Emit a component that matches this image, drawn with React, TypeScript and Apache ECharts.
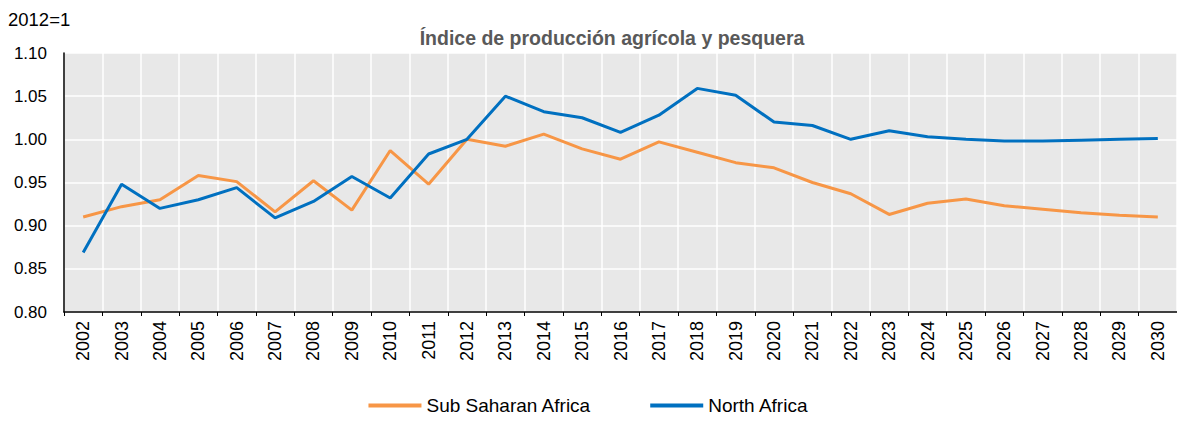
import React, { useEffect, useRef } from "react";
import * as echarts from "echarts";

const years: string[] = [
  "2002","2003","2004","2005","2006","2007","2008","2009","2010","2011",
  "2012","2013","2014","2015","2016","2017","2018","2019","2020","2021",
  "2022","2023","2024","2025","2026","2027","2028","2029","2030",
];

const subSaharanAfrica: number[] = [
  0.910, 0.922, 0.930, 0.958, 0.951, 0.916, 0.952, 0.918, 0.987, 0.948,
  1.000, 0.992, 1.006, 0.989, 0.977, 0.997, 0.985, 0.973, 0.967, 0.950,
  0.937, 0.913, 0.926, 0.931, 0.923, 0.919, 0.915, 0.912, 0.910,
];

const northAfrica: number[] = [
  0.869, 0.948, 0.920, 0.930, 0.944, 0.909, 0.928, 0.957, 0.932, 0.983,
  1.000, 1.050, 1.032, 1.025, 1.008, 1.028, 1.059, 1.051, 1.020, 1.016,
  1.000, 1.010, 1.003, 1.000, 0.998, 0.998, 0.999, 1.000, 1.001,
];

const yTicks = { min: 0.8, max: 1.1, interval: 0.05 };

const FONT = '"Liberation Sans Narrow", "Arial Narrow", "Liberation Sans", Arial, sans-serif';

export default function App() {
  const ref = useRef<HTMLDivElement>(null);

  useEffect(() => {
    if (!ref.current) return;
    const chart = echarts.init(ref.current, undefined, { renderer: "svg" });
    chart.setOption({
      animation: false,
      backgroundColor: "#ffffff",
      textStyle: { fontFamily: FONT },
      title: {
        text: "Índice de producción agrícola y pesquera",
        left: 607,
        textAlign: "center",
        top: 23,
        textStyle: { fontFamily: FONT, fontSize: 19.5, fontWeight: "bold", color: "#595959" },
      },
      graphic: [
        {
          type: "text",
          left: 8,
          top: 10,
          style: { text: "2012=1", fontFamily: FONT, fontSize: 18.5, fill: "#000000" },
        },
      ],
      legend: {
        top: 396,
        left: "center",
        padding: 0,
        itemWidth: 53,
        itemHeight: 4,
        itemGap: 59,
        icon: "rect",
        textStyle: { fontFamily: FONT, fontSize: 19, color: "#000000" },
        data: ["Sub Saharan Africa", "North Africa"],
      },
      grid: { left: 64, right: 0, top: 53, bottom: 109, containLabel: false, show: true, backgroundColor: "#e8e8e8", borderWidth: 0 },
      xAxis: {
        type: "category",
        data: years,
        boundaryGap: true,
        axisLine: { show: true, lineStyle: { color: "#000000", width: 1.5 } },
        axisTick: { show: true, length: 4, lineStyle: { color: "#000000" } },
        axisLabel: { rotate: 90, fontFamily: FONT, fontSize: 18, color: "#000000", margin: 9 },
        splitLine: { show: true, lineStyle: { color: "#ffffff", width: 1.5 } },
      },
      yAxis: {
        type: "value",
        min: yTicks.min,
        max: yTicks.max,
        interval: yTicks.interval,
        axisLine: { show: true, lineStyle: { color: "#000000", width: 1.5 } },
        axisTick: { show: false },
        axisLabel: {
          fontFamily: FONT,
          fontSize: 17,
          color: "#000000",
          margin: 17,
          formatter: (v: number) => v.toFixed(2),
        },
        splitLine: { show: true, lineStyle: { color: "#ffffff", width: 1.5 } },
      },
      series: [
        {
          name: "Sub Saharan Africa",
          type: "line",
          data: subSaharanAfrica,
          showSymbol: false,
          symbol: "none",
          lineStyle: { color: "#f79646", width: 3 },
          itemStyle: { color: "#f79646" },
          z: 3,
        },
        {
          name: "North Africa",
          type: "line",
          data: northAfrica,
          showSymbol: false,
          symbol: "none",
          lineStyle: { color: "#0070c0", width: 3 },
          itemStyle: { color: "#0070c0" },
          z: 4,
        },
      ],
    });
    return () => chart.dispose();
  }, []);

  return (
    <div
      ref={ref}
      style={{ position: "fixed", left: 0, top: 0, width: 1177, height: 421 }}
    />
  );
}
